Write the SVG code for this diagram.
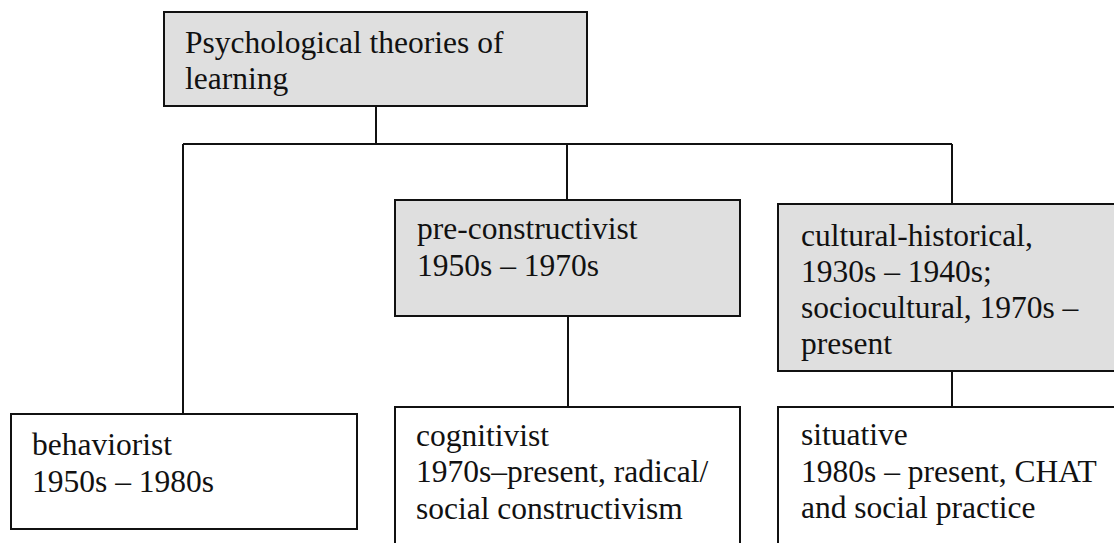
<svg xmlns="http://www.w3.org/2000/svg" width="1114" height="543" viewBox="0 0 1114 543">
  <style>
    .box { stroke: #111; stroke-width: 2; }
    .grey { fill: #dfdfdf; }
    .white { fill: #ffffff; }
    .lbl { font-family: "Liberation Serif", "Times New Roman", serif; font-size: 31.5px; fill: #111; }
    .link { stroke: #111; stroke-width: 2; fill: none; }
  </style>
  <rect width="1114" height="543" fill="#ffffff"/>

  <!-- tree connectors -->
  <g id="connectors">
    <line class="link" x1="376" y1="106" x2="376" y2="144"/>
    <line class="link" x1="183" y1="144" x2="952" y2="144"/>
    <line class="link" x1="183" y1="144" x2="183" y2="414"/>
    <line class="link" x1="567" y1="144" x2="567" y2="200"/>
    <line class="link" x1="952" y1="144" x2="952" y2="204"/>
    <line class="link" x1="568" y1="316" x2="568" y2="407"/>
    <line class="link" x1="952" y1="371" x2="952" y2="407"/>
  </g>

  <g id="root">
    <rect class="box grey" x="164" y="12" width="423" height="94"/>
    <text class="lbl" x="185" y="53">Psychological theories of</text>
    <text class="lbl" x="185" y="89">learning</text>
  </g>

  <g id="pre-constructivist">
    <rect class="box grey" x="395" y="200" width="345" height="116"/>
    <text class="lbl" x="417" y="239">pre-constructivist</text>
    <text class="lbl" x="417" y="276">1950s – 1970s</text>
  </g>

  <g id="cultural-historical">
    <rect class="box grey" x="778" y="204" width="400" height="167"/>
    <text class="lbl" x="801" y="246">cultural-historical,</text>
    <text class="lbl" x="801" y="282">1930s – 1940s;</text>
    <text class="lbl" x="801" y="318">sociocultural, 1970s –</text>
    <text class="lbl" x="801" y="354">present</text>
  </g>

  <g id="behaviorist">
    <rect class="box white" x="11" y="414" width="346" height="115"/>
    <text class="lbl" x="32" y="455">behaviorist</text>
    <text class="lbl" x="32" y="492">1950s – 1980s</text>
  </g>

  <g id="cognitivist">
    <rect class="box white" x="395" y="407" width="345" height="160"/>
    <text class="lbl" x="416" y="446">cognitivist</text>
    <text class="lbl" x="416" y="482">1970s–present, radical/</text>
    <text class="lbl" x="416" y="519">social constructivism</text>
  </g>

  <g id="situative">
    <rect class="box white" x="778" y="407" width="400" height="160"/>
    <text class="lbl" x="801" y="445">situative</text>
    <text class="lbl" x="801" y="482">1980s – present, CHAT</text>
    <text class="lbl" x="801" y="518">and social practice</text>
  </g>
</svg>
